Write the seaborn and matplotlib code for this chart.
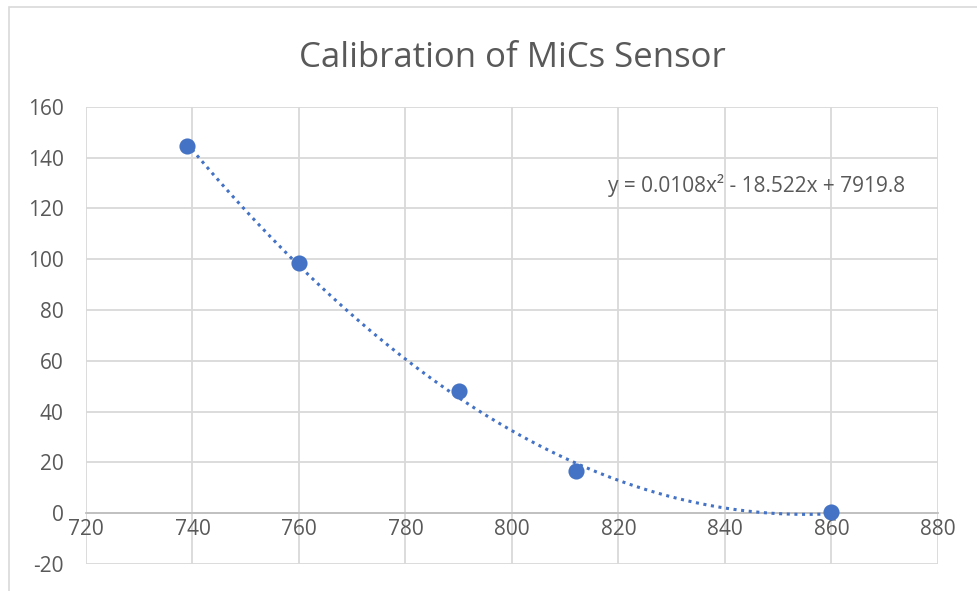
import numpy as np
import matplotlib
matplotlib.use("Agg")
import matplotlib.pyplot as plt
import seaborn as sns
from matplotlib.patches import Rectangle

# sensor reading vs concentration
reading = [739, 760, 790, 812, 860]
conc = [144.5, 98.5, 48.0, 16.5, 0.4]
x_ticks = list(range(720, 881, 20))
y_ticks = list(range(-20, 161, 20))
equation = "y = 0.0108x² - 18.522x + 7919.8"

blue = "#4472C4"
grid = "#d9d9d9"
txt = "#595959"

sns.set_theme(style="white")
plt.rcParams["font.family"] = ["Open Sans", "DejaVu Sans"]
plt.rcParams["axes.unicode_minus"] = False

fig = plt.figure(figsize=(9.77, 5.91), dpi=100)
ax = fig.add_axes([0.088, 0.046, 0.872, 0.773])

sns.regplot(x=reading, y=conc, order=2, ci=None, truncate=True, ax=ax,
            scatter_kws=dict(s=135, color=blue, alpha=1, linewidths=0, zorder=4),
            line_kws=dict(color=blue, lw=2.2, ls=(0, (1, 1.5)), zorder=3))

ax.set_xlim(720, 880)
ax.set_ylim(-20, 160)
ax.set_xticks(x_ticks)
ax.set_yticks(y_ticks)
ax.grid(True, color=grid, lw=1.3)
ax.set_axisbelow(True)
for s in ["top", "right", "left"]:
    ax.spines[s].set_visible(False)
ax.spines["bottom"].set_position(("data", 0))
ax.spines["bottom"].set_color("#bfbfbf")
ax.spines["bottom"].set_linewidth(1.3)
ax.tick_params(length=0, labelsize=15, colors=txt)
ax.tick_params(axis="x", pad=4)
ax.tick_params(axis="y", pad=16)
ax.set_xlabel("")
ax.set_ylabel("")

ax.text(846, 129, equation, ha="center", va="center", fontsize=15, color=txt)
fig.text(0.524, 0.902, "Calibration of MiCs Sensor", ha="center", va="center",
         fontsize=25, color=txt)

fig.patches.append(Rectangle((0.009, -0.01), 1.0, 0.998, transform=fig.transFigure,
                             fill=False, ec="#d9d9d9", lw=1.2))

fig.savefig("out.png", dpi=100)
